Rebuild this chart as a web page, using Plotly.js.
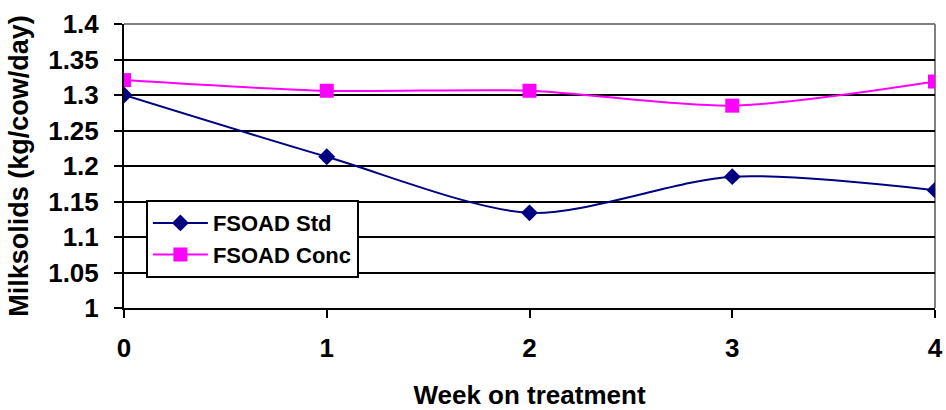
<!DOCTYPE html>
<html>
<head>
<meta charset="utf-8">
<script src="https://cdn.plot.ly/plotly-3.0.1.min.js"></script>
<style>html,body{margin:0;padding:0;background:#fff;}#chart{width:946px;height:410px;}</style>
</head>
<body>
<div id="chart"></div>
<script>
const weeks = [0, 1, 2, 3, 4];
const fsoadStd = [1.300, 1.213, 1.134, 1.185, 1.166];
const fsoadConc = [1.321, 1.306, 1.306, 1.285, 1.319];
const yTicks = [1, 1.05, 1.1, 1.15, 1.2, 1.25, 1.3, 1.35, 1.4];
const yTickLabels = ['1', '1.05', '1.1', '1.15', '1.2', '1.25', '1.3', '1.35', '1.4'];
const xTickLabels = ['0', '1', '2', '3', '4'];

const FONT = 'Liberation Sans, Arial, sans-serif';

const traces = [
  {
    x: weeks, y: fsoadStd, name: 'FSOAD Std', type: 'scatter', mode: 'lines+markers',
    line: {color: '#000080', width: 2, shape: 'spline', smoothing: 0.8},
    marker: {symbol: 'diamond', size: 13, color: '#000080'}
  },
  {
    x: weeks, y: fsoadConc, name: 'FSOAD Conc', type: 'scatter', mode: 'lines+markers',
    line: {color: '#FF00FF', width: 2, shape: 'spline', smoothing: 0.8},
    marker: {symbol: 'square', size: 14, color: '#FF00FF'}
  }
];

const layout = {
  width: 946, height: 410,
  margin: {l: 124, r: 11, t: 24, b: 102},
  paper_bgcolor: '#ffffff', plot_bgcolor: '#ffffff',
  font: {family: FONT, size: 22, color: '#000', weight: 'bold'},
  showlegend: true,
  legend: {
    x: 0.027, y: 0.38, xanchor: 'left', yanchor: 'top',
    bgcolor: '#ffffff', bordercolor: '#000', borderwidth: 2,
    font: {family: FONT, size: 22, color: '#000', weight: 'bold'},
    itemwidth: 55,
    tracegroupgap: 0
  },
  xaxis: {
    range: [0, 4], tickmode: 'array', tickvals: weeks, ticktext: xTickLabels,
    showgrid: false, zeroline: false,
    showline: true, linecolor: '#000', linewidth: 2,
    ticks: 'outside', ticklen: 8, tickwidth: 2, tickcolor: '#000',
    ticklabelstandoff: 8,
    tickfont: {family: FONT, size: 26, color: '#000', weight: 'bold'},
    title: {text: 'Week on treatment', standoff: 26, font: {family: FONT, size: 26, color: '#000', weight: 'bold'}}
  },
  yaxis: {
    range: [1, 1.4], tickmode: 'array', tickvals: yTicks, ticktext: yTickLabels,
    showgrid: true, gridcolor: '#000', gridwidth: 2, zeroline: false,
    showline: true, linecolor: '#000', linewidth: 2,
    ticks: 'outside', ticklen: 8, tickwidth: 2, tickcolor: '#000',
    ticklabelstandoff: 10,
    tickfont: {family: FONT, size: 26, color: '#000', weight: 'bold'},
    title: {text: 'Milksolids (kg/cow/day)', standoff: 12, font: {family: FONT, size: 27, color: '#000', weight: 'bold'}}
  },
  shapes: [
    {type: 'line', xref: 'paper', yref: 'paper', x0: 0, x1: 1, y0: 1, y1: 1, line: {color: '#808080', width: 2}, layer: 'above'},
    {type: 'line', xref: 'paper', yref: 'paper', x0: 1, x1: 1, y0: 0, y1: 1, line: {color: '#808080', width: 2}, layer: 'below'}
  ]
};

Plotly.newPlot('chart', traces, layout, {displayModeBar: false, staticPlot: true});
</script>
</body>
</html>
